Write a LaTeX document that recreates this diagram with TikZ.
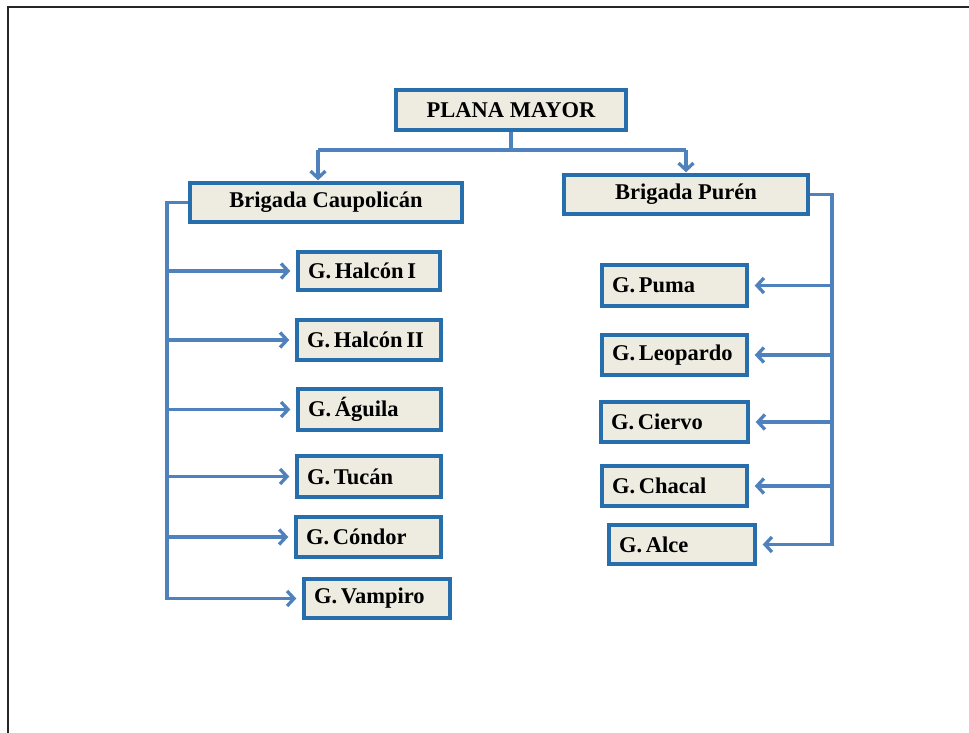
\documentclass[tikz,border=0pt]{standalone}
\usepackage{fontspec}
\setmainfont{Liberation Serif}
\usetikzlibrary{arrows.meta}
\definecolor{boxfill}{RGB}{238,236,225}
\definecolor{boxline}{RGB}{38,110,172}
\definecolor{connline}{RGB}{79,129,189}
\begin{document}
\begin{tikzpicture}[x=1pt,y=-1pt,
  box/.style={draw=boxline, fill=boxfill, line width=3.4pt, inner sep=0pt,
    font=\bfseries\fontsize{22.5}{26}\selectfont},
  cbox/.style={box, align=center},
  lbox/.style={box, align=left},
  conn/.style={draw=connline, line width=3.3pt},
  arr/.style={conn, -{Straight Barb[length=7pt,width=15pt]}, shorten >=6pt}
]
\useasboundingbox (0,0) rectangle (969,733);
\draw[line width=2.2pt, black!85] (8,733) -- (8,7) -- (969,7);

% box macro: name, x1, x2, y1, y2, text
\newcommand{\cbx}[6]{%
  \node[cbox, minimum width=#3-#2, minimum height=#5-#4] (#1) at ({(#2+#3)/2},{(#4+#5)/2}) {#6};}
\newcommand{\lbx}[6]{%
  \node[lbox, minimum height=#5-#4, text width=#3-#2-20, inner xsep=10pt] (#1) at ({(#2+#3)/2},{(#4+#5)/2}) {#6};}

\cbx{PM}{396}{626}{90}{130}{PLANA MAYOR}
\cbx{BC}{190}{462}{183}{222}{Brigada Caupolicán}
\cbx{BP}{564}{808}{175}{214}{Brigada Purén}

\lbx{H1}{298}{440}{252}{290}{G.\,Halcón\,I}
\lbx{H2}{297}{441}{320}{360}{G.\,Halcón\,II}
\lbx{Ag}{298}{441}{389}{430}{G.\,Águila}
\lbx{Tu}{297}{441}{456}{497}{G.\,Tucán}
\lbx{Co}{296}{441}{517}{557}{G.\,Cóndor}
\lbx{Va}{304}{450}{579}{618}{G.\,Vampiro}

\lbx{Pu}{602}{747}{265}{306}{G.\,Puma}
\lbx{Le}{602}{747}{335}{375}{G.\,Leopardo}
\lbx{Ci}{601}{748}{402}{442}{G.\,Ciervo}
\lbx{Ch}{602}{747}{466}{506}{G.\,Chacal}
\lbx{Al}{609}{755}{525}{564}{G.\,Alce}

% top connectors
\coordinate (TL) at (318,150);
\coordinate (TR) at (686,150);
\draw[conn] (PM.south) -- (PM.south |- TL);
\draw[conn] (TL) -- (TR);
\draw[arr, shorten >=1pt] (TL) -- (TL |- BC.north);
\draw[arr, shorten >=1pt] (TR) -- (TR |- BP.north);

% left bus
\coordinate (LX) at (167,0);
\draw[conn] (BC.west) -| (LX |- Va.west) -- +(10,0);
\foreach \n in {H1,H2,Ag,Tu,Co,Va}
  \draw[arr] (LX |- \n.west) -- (\n.west);

% right bus
\coordinate (RX) at (832,0);
\draw[conn] (BP.east) -| (RX |- Al.east) -- +(-10,0);
\foreach \n in {Pu,Le,Ci,Ch,Al}
  \draw[arr] (RX |- \n.east) -- (\n.east);
\end{tikzpicture}
\end{document}
